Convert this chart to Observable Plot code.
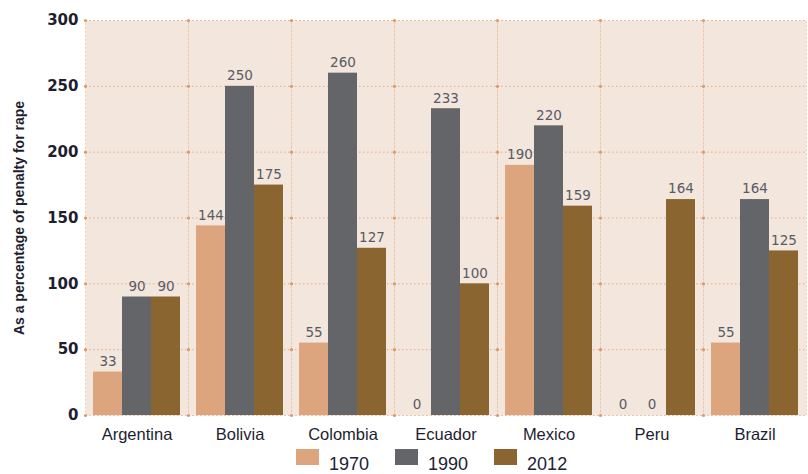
<!DOCTYPE html>
<html>
<head>
<meta charset="utf-8">
<script src="https://cdn.jsdelivr.net/npm/d3@7"></script>
<script src="https://cdn.jsdelivr.net/npm/@observablehq/plot@0.6"></script>
<style>
  body { margin: 0; background: #fff; font-family: "Liberation Sans", Arial, sans-serif; }
  #wrap { position: relative; width: 808px; height: 474px; overflow: hidden; }
  #legend { position: absolute; left: 296px; top: 449px; display: flex; }
  .item { display: flex; align-items: flex-start; margin-right: 26px; }
  .sw { width: 23px; height: 16px; margin-right: 10px; }
  .lab { font-size: 18px; color: #222233; margin-top: 6px; line-height: 18px; }
</style>
</head>
<body>
<div id="wrap"><div id="chart"></div><div id="legend"></div></div>
<script>
const countries = ["Argentina", "Bolivia", "Colombia", "Ecuador", "Mexico", "Peru", "Brazil"];
const years = ["1970", "1990", "2012"];
const v1970 = [33, 144, 55, 0, 190, 0, 55];
const v1990 = [90, 250, 260, 233, 220, 0, 164];
const v2012 = [90, 175, 127, 100, 159, 164, 125];
const yTicks = [0, 50, 100, 150, 200, 250, 300];
const colors = ["#dca57d", "#646568", "#8b6530"];
const yLabel = "As a percentage of penalty for rape";

const series = [v1970, v1990, v2012];
const data = countries.flatMap((c, i) => years.map((y, j) => ({country: c, year: y, value: series[j][i]})));

const chart = Plot.plot({
  width: 808,
  height: 445,
  marginLeft: 83,
  marginRight: 0,
  marginTop: 20,
  marginBottom: 30,
  style: {fontFamily: "Liberation Sans, Arial, sans-serif", background: "transparent"},
  fx: {domain: countries, padding: 0},
  x: {domain: years, paddingInner: 0, paddingOuter: 0.25, axis: null},
  y: {domain: [0, 300]},
  color: {domain: years, range: colors},
  marks: [
    Plot.frame({fill: "#f3e6dc", stroke: null}),
    Plot.gridY(yTicks, {stroke: "#dca27a", strokeOpacity: 0.8, strokeWidth: 1, strokeDasharray: "1.5,2.5"}),
    Plot.frame({stroke: "#e6c4a8", strokeOpacity: 0.9, strokeDasharray: "1.5,2.5"}),
    Plot.dot(yTicks, {y: d => d, frameAnchor: "left", r: 1.6, fill: "#dc9a68", stroke: null}),
    Plot.barY(data, {fx: "country", x: "year", y: "value", fill: "year"}),
    Plot.text(data, {fx: "country", x: "year", y: "value", text: d => String(d.value), dy: -10.5, fill: "#5a5a64", fontSize: 13.5, fontFamily: "DejaVu Sans, sans-serif"}),
    Plot.axisFx({anchor: "bottom", tickSize: 0, tickPadding: 13, fontSize: 16.5, fill: "#1e1e30", label: null}),
    Plot.axisY(yTicks, {anchor: "left", tickSize: 0, tickPadding: 7, fontSize: 15, fontWeight: "bold", fontFamily: "DejaVu Sans, sans-serif", fill: "#1e1e30", label: null}),
    Plot.axisY([], {anchor: "left", tickSize: 0, fontSize: 14, fontWeight: "bold", fill: "#1e1e30",
      label: yLabel, labelAnchor: "center", labelOffset: 71, labelArrow: "none"})
  ]
});
document.getElementById("chart").appendChild(chart);

const legend = document.getElementById("legend");
years.forEach((y, i) => {
  const it = document.createElement("div");
  it.className = "item";
  const sw = document.createElement("div");
  sw.className = "sw";
  sw.style.background = colors[i];
  const lab = document.createElement("div");
  lab.className = "lab";
  lab.textContent = y;
  it.appendChild(sw); it.appendChild(lab);
  legend.appendChild(it);
});
</script>
</body>
</html>
